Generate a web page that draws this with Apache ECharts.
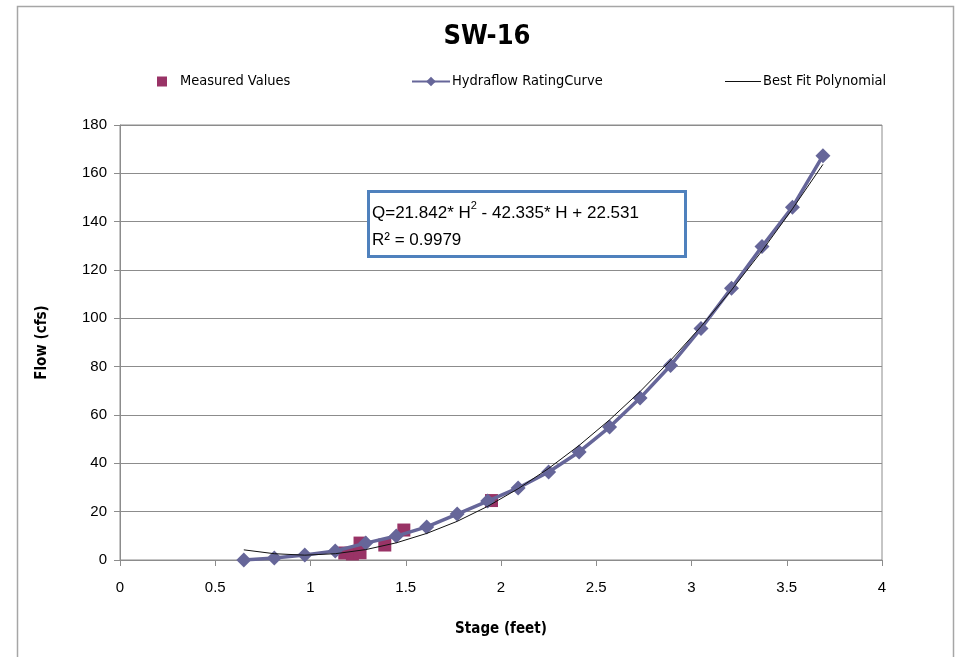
<!DOCTYPE html>
<html>
<head>
<meta charset="utf-8">
<script src="https://cdn.jsdelivr.net/npm/echarts@6/dist/echarts.min.js"></script>
<style>
html,body{margin:0;padding:0;background:#fff;}
#c{width:959px;height:657px;}
</style>
</head>
<body>
<div id="c"></div>
<script>
// ---- data ----
var measuredStage = [1.18, 1.22, 1.26, 1.26, 1.39, 1.49, 1.95];
var measuredFlow  = [2.9, 2.5, 3.0, 7.0, 6.2, 12.4, 24.6];

var curveStage = [0.65, 0.81, 0.97, 1.13, 1.29, 1.45, 1.61, 1.77, 1.93, 2.09, 2.25, 2.41, 2.57, 2.73, 2.89, 3.05, 3.21, 3.37, 3.53, 3.69];
var hydraflowFlow = [0, 0.8, 2.1, 3.7, 7.0, 9.9, 13.7, 19.0, 24.4, 29.8, 36.4, 44.7, 55.0, 67.0, 80.5, 95.8, 112.5, 129.7, 146.0, 167.3];
var bestFitFlow = [4.2, 2.6, 2.0, 2.6, 4.3, 7.1, 11.0, 16.0, 22.2, 29.5, 37.9, 47.4, 58.0, 69.7, 82.6, 96.6, 111.7, 127.9, 145.3, 163.7];

var xTicks = [0, 0.5, 1, 1.5, 2, 2.5, 3, 3.5, 4];
var yTicks = [0, 20, 40, 60, 80, 100, 120, 140, 160, 180];

var titleText = 'SW-16';
var xName = 'Stage (feet)';
var yName = 'Flow (cfs)';
var eqLine1a = 'Q=21.842* H';
var eqSup = '2';
var eqLine1b = ' - 42.335* H + 22.531';
var eqLine2 = 'R² = 0.9979';

// ---- build ----
function pairs(xs, ys){ return xs.map(function(x,i){ return [x, ys[i]]; }); }

var narrow = "'Liberation Sans Narrow','Arial Narrow','DejaVu Sans Condensed',sans-serif";
var regular = "'Liberation Sans',Arial,sans-serif";

var chart = echarts.init(document.getElementById('c'), null, {renderer:'canvas'});
chart.setOption({
  backgroundColor: '#ffffff',
  animation: false,
  title: {
    text: titleText, left: 482, top: 18, textAlign: 'center',
    textStyle: {fontFamily: narrow, fontSize: 27, fontWeight: 'bold', color: '#000'}
  },
  legend: [
    {data: ['Measured Values'], left: 152, top: 69, itemWidth: 10, itemHeight: 10,
     textStyle: {fontFamily: narrow, fontSize: 14.5, color: '#000', padding: [0,0,0,8]}},
    {data: ['Hydraflow RatingCurve'], left: 406, top: 69, itemWidth: 38, itemHeight: 12,
     textStyle: {fontFamily: narrow, fontSize: 14.5, color: '#000', padding: [0,0,0,-3]}},
    {data: [{name: 'Best Fit Polynomial', icon: 'rect'}], left: 720, top: 69, itemWidth: 36, itemHeight: 1.2,
     textStyle: {fontFamily: narrow, fontSize: 14.5, color: '#000', padding: [0,0,0,-3]}}
  ],
  grid: {left: 120, right: 77, top: 125, bottom: 97, show: true, borderColor: '#8c8c8c', borderWidth: 1},
  xAxis: {
    type: 'value', min: 0, max: 4, interval: 0.5,
    name: xName, nameLocation: 'middle', nameGap: 62,
    nameTextStyle: {fontFamily: narrow, fontSize: 15, fontWeight: 'bold', color: '#000'},
    axisLine: {show: true, lineStyle: {color: '#8c8c8c', width: 1}},
    axisTick: {show: true, length: 6, lineStyle: {color: '#8c8c8c'}},
    axisLabel: {fontFamily: regular, fontSize: 15, color: '#000', margin: 20,
      formatter: function(v){ return xTicks.indexOf(v) >= 0 ? String(v) : ''; }},
    splitLine: {show: false}
  },
  yAxis: {
    type: 'value', min: 0, max: 180, interval: 20,
    name: yName, nameLocation: 'middle', nameGap: 70, nameRotate: 90,
    nameTextStyle: {fontFamily: narrow, fontSize: 15, fontWeight: 'bold', color: '#000'},
    axisLine: {show: true, lineStyle: {color: '#8c8c8c', width: 1}},
    axisTick: {show: true, length: 6, lineStyle: {color: '#8c8c8c'}},
    axisLabel: {fontFamily: regular, fontSize: 15, color: '#000', margin: 13,
      formatter: function(v){ return yTicks.indexOf(v) >= 0 ? String(v) : ''; }},
    splitLine: {show: true, lineStyle: {color: '#8c8c8c', width: 1}}
  },
  series: [
    {
      name: 'Measured Values', type: 'scatter', data: pairs(measuredStage, measuredFlow),
      symbol: 'rect', symbolSize: 13, z: 2,
      itemStyle: {color: '#993366', opacity: 1}
    },
    {
      name: 'Hydraflow RatingCurve', type: 'line', data: pairs(curveStage, hydraflowFlow),
      symbol: 'diamond', symbolSize: 15, showSymbol: true, z: 3,
      lineStyle: {color: '#666699', width: 3.5},
      itemStyle: {color: '#666699', borderWidth: 0}
    },
    {
      name: 'Best Fit Polynomial', type: 'line', data: pairs(curveStage, bestFitFlow),
      symbol: 'none', z: 4,
      lineStyle: {color: '#111111', width: 1},
      itemStyle: {color: '#111111'}
    }
  ],
  graphic: [
    {type: 'rect', left: 15, top: 4, z: -10, silent: true,
     shape: {width: 936, height: 680}, style: {fill: 'none', stroke: '#a6a6a6', lineWidth: 1.5}},
    {type: 'rect', left: 367, top: 190, z: 10, silent: true,
     shape: {width: 317, height: 65}, style: {fill: '#ffffff', stroke: '#4f81bd', lineWidth: 3}},
    {type: 'text', left: 372, top: 200, z: 11, silent: true,
     style: {
       text: '{a|' + eqLine1a + '}{s|' + eqSup + '}{a|' + eqLine1b + '}\n{a|' + eqLine2 + '}',
       rich: {
         a: {fontFamily: regular, fontSize: 17, color: '#000', lineHeight: 27},
         s: {fontFamily: regular, fontSize: 11, color: '#000', lineHeight: 27, verticalAlign: 'top', padding: [0,0,10,0]}
       }
     }}
  ]
});
</script>
</body>
</html>
